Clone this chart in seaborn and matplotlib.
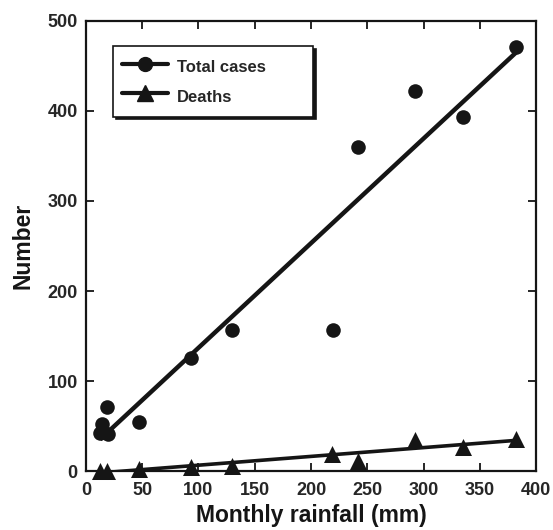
import numpy as np
import pandas as pd
import matplotlib
matplotlib.use("Agg")
import matplotlib.pyplot as plt
from matplotlib.lines import Line2D
import seaborn as sns

rain_cases = [12.4, 14, 18.4, 19.8, 47, 93, 130, 219.8, 242, 292.4, 335.4, 382]
total_cases = [42, 52, 71.5, 41, 55, 126, 157, 157, 360, 422, 393, 471]
rain_deaths = [12.4, 18.4, 47, 93, 130, 219, 241.5, 292.4, 335.4, 382]
deaths = [0, 0, 2, 5, 6, 18.5, 11, 35, 27, 35.5]
xticks = [0, 50, 100, 150, 200, 250, 300, 350, 400]
yticks = [0, 100, 200, 300, 400, 500]

sns.set_style("ticks")
plt.rcParams['font.family'] = ['Liberation Sans', 'DejaVu Sans']
plt.rcParams['font.weight'] = 'bold'

col = '#151515'
fig = plt.figure(figsize=(5.53, 5.30), dpi=100)
ax = fig.add_axes([0.1555, 0.1113, 0.8138, 0.8491])

df_c = pd.DataFrame({'x': rain_cases, 'y': total_cases})
df_d = pd.DataFrame({'x': rain_deaths, 'y': deaths})

sns.regplot(data=df_c, x='x', y='y', ax=ax, ci=None, truncate=True, marker='o', color=col,
            scatter_kws={'s': 110, 'clip_on': False, 'zorder': 4, 'alpha': 1, 'linewidths': 0},
            line_kws={'lw': 3.2, 'solid_capstyle': 'butt'})
sns.regplot(data=df_d, x='x', y='y', ax=ax, ci=None, truncate=True, marker='^', color=col,
            scatter_kws={'s': 150, 'clip_on': False, 'zorder': 4, 'alpha': 1, 'linewidths': 0},
            line_kws={'lw': 2.6, 'solid_capstyle': 'butt'})

ax.set_xlim(0, 400)
ax.set_ylim(0, 500)
ax.set_xticks(xticks)
ax.set_yticks(yticks)
ax.tick_params(direction='in', length=6, width=1.3, top=True, right=True, labelsize=13,
               labeltop=False, labelright=False, color=col)
ax.tick_params(axis='x', pad=8)
ax.tick_params(axis='y', pad=6)
for lab in ax.get_xticklabels() + ax.get_yticklabels():
    lab.set_fontweight('bold')
for s in ax.spines.values():
    s.set_linewidth(1.6)
    s.set_color(col)
ax.set_xlabel('Monthly rainfall (mm)', fontsize=16.5, fontweight='bold', labelpad=3.5, color=col)
ax.set_ylabel('Number', fontsize=16.5, fontweight='bold', labelpad=9, color=col)

handles = [Line2D([], [], color=col, lw=3, marker='o', markersize=10),
           Line2D([], [], color=col, lw=3, marker='^', markersize=11)]
leg = ax.legend(handles, ['Total cases', 'Deaths'], loc='upper left',
                bbox_to_anchor=(0.06, 0.744, 0.4444, 0.2), mode='expand',
                frameon=True, fancybox=False, shadow={'color': col, 'alpha': 1}, edgecolor=col,
                prop={'weight': 'bold', 'size': 12}, handlelength=2.75, borderpad=0.55,
                handleheight=1.7, labelspacing=0.42, borderaxespad=0, handletextpad=0.54)
leg.get_frame().set_linewidth(1.2)
leg.get_frame().set_boxstyle('square', pad=0)

fig.savefig('out.png', dpi=100)
